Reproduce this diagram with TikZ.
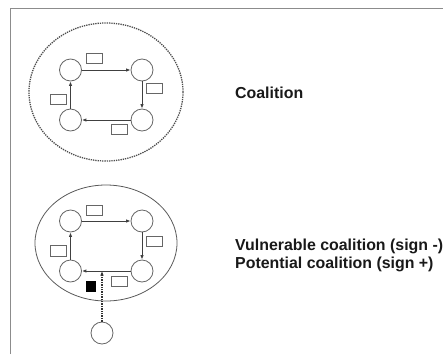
\documentclass[tikz,border=0pt]{standalone}
\usepackage{fontspec}
\setmainfont{Liberation Sans}
\usetikzlibrary{arrows.meta}
\begin{document}
\begin{tikzpicture}[x=1pt,y=-1pt,
  agent/.style={circle,draw=black!60,line width=0.8pt,minimum size=22pt,inner sep=0pt,fill=white},
  tag/.style={rectangle,draw=black!60,line width=0.7pt,minimum width=16pt,minimum height=10.5pt,inner sep=0pt,fill=white},
  link/.style={draw=black!75,line width=0.9pt,-{Latex[length=4.5pt,width=3.5pt]}},
  frameline/.style={draw=black!45,line width=1.6pt},
  label/.style={font=\bfseries\fontsize{15.9pt}{18pt}\selectfont,anchor=base west,inner sep=0pt,text=black!90}
]
\useasboundingbox (0,0) rectangle (444,354);
% frame
\coordinate (fa) at (10.5,354);
\coordinate (fb) at (10.5,8.5);
\coordinate (fc) at (443,8.5);
\draw[frameline] (fa) -- (fb) -- (fc);

% top group: coalition
\draw[black!70,line width=1.3pt,densely dotted] (106,92) ellipse [x radius=77,y radius=69];
\node[agent] (a1) at (70.5,70) {};
\node[agent] (a2) at (142,70) {};
\node[agent] (a3) at (142,120) {};
\node[agent] (a4) at (70.5,120) {};
\draw[link] (a1) -- (a2);
\draw[link] (a2) -- (a3);
\draw[link] (a3) -- (a4);
\draw[link] (a4) -- (a1);
\node[tag] (t1) at (94,58.5) {};
\node[tag] (t2) at (154,88.5) {};
\node[tag] (t3) at (119,129.5) {};
\node[tag] (t4) at (58,99.5) {};

% bottom group: vulnerable / potential coalition
\draw[black!65,line width=0.8pt] (106,243) ellipse [x radius=71,y radius=58];
\node[agent] (b1) at (70.5,221) {};
\node[agent] (b2) at (142,221) {};
\node[agent] (b3) at (142,271) {};
\node[agent] (b4) at (70.5,271) {};
\draw[link] (b1) -- (b2);
\draw[link] (b2) -- (b3);
\draw[link] (b3) -- (b4);
\draw[link] (b4) -- (b1);
\node[tag] (s1) at (94,210.5) {};
\node[tag] (s2) at (154,241.5) {};
\node[tag] (s3) at (119,281.5) {};
\node[tag] (s4) at (58,251) {};
\node[rectangle,fill=black,minimum width=10pt,minimum height=11pt,inner sep=0pt] (sq) at (91,286.5) {};
\node[agent] (ext) at (102,333) {};
\coordinate (hit) at (102,271);
\draw[black!80,line width=1.4pt,densely dotted,-{Latex[length=4.5pt,width=3.5pt]}] (ext) -- (hit);

% labels
\node[label] (l1) at (235,98) {Coalition};
\node[label] (l2) at (235,250) {Vulnerable coalition (sign -)};
\node[label] (l3) at (235,268) {Potential coalition (sign +)};
\end{tikzpicture}
\end{document}
